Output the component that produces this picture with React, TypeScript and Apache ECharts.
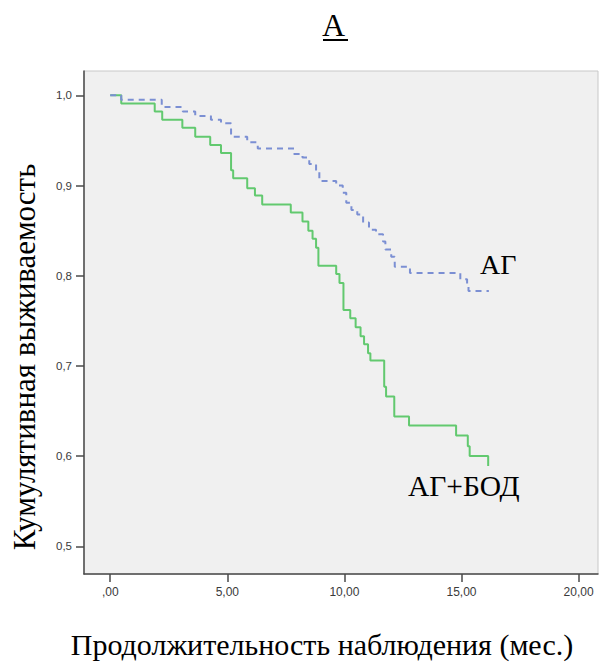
import React, { useEffect, useRef } from "react";
import * as echarts from "echarts";

// АГ+БОД (green, solid): event times and survival after each step
const greenT = [0, 0.47, 1.9, 2.22, 3.08, 3.63, 4.27, 4.73, 5.16, 5.25, 5.85, 6.18, 6.49, 7.71, 8.21, 8.46, 8.64, 8.79, 8.89, 9.65, 9.79, 9.96, 10.25, 10.48, 10.69, 10.84, 11.01, 11.11, 11.7, 11.78, 12.13, 12.76, 14.77, 15.27, 15.35, 16.14];
const greenV = [1.0, 0.991, 0.982, 0.973, 0.964, 0.954, 0.945, 0.936, 0.917, 0.908, 0.897, 0.889, 0.879, 0.87, 0.86, 0.85, 0.841, 0.831, 0.811, 0.802, 0.792, 0.762, 0.753, 0.743, 0.733, 0.724, 0.714, 0.706, 0.677, 0.666, 0.644, 0.634, 0.623, 0.611, 0.6, 0.589];

// АГ (blue, dashed)
const blueT = [0, 0.47, 2.2, 3.1, 3.63, 4.3, 4.73, 5.16, 5.85, 6.3, 7.85, 8.21, 8.5, 8.79, 8.93, 9.65, 9.93, 10.08, 10.3, 10.55, 10.8, 11.05, 11.35, 11.65, 11.75, 12.0, 12.15, 12.8, 14.95, 15.24, 15.3, 16.17];
const blueV = [1.0, 0.995, 0.987, 0.982, 0.977, 0.973, 0.969, 0.954, 0.948, 0.941, 0.935, 0.931, 0.924, 0.916, 0.905, 0.9, 0.892, 0.881, 0.873, 0.868, 0.859, 0.851, 0.846, 0.838, 0.829, 0.821, 0.81, 0.803, 0.796, 0.79, 0.783, 0.783];

const xTicks = [0, 5, 10, 15, 20];
const yTicks = [0.5, 0.6, 0.7, 0.8, 0.9, 1.0];

const titleText = "А";
const yTitle = "Кумулятивная выживаемость";
const xTitle = "Продолжительность наблюдения (мес.)";
const blueLabel = "АГ";
const greenLabel = "АГ+БОД";

export default function App() {
  const ref = useRef<HTMLDivElement>(null);
  useEffect(() => {
    document.body.style.margin = "0";
    if (!ref.current) return;
    const chart = echarts.init(ref.current, null, { renderer: "svg" });
    const serif = "'Liberation Serif', 'Times New Roman', serif";
    const sans = "'Liberation Sans', Arial, sans-serif";
    chart.setOption({
      animation: false,
      backgroundColor: "#ffffff",
      grid: {
        left: 84,
        top: 71,
        right: 2,
        bottom: 88,
        show: true,
        backgroundColor: "#f0f0f0",
        borderColor: "#c8c8c8",
        borderWidth: 1,
      },
      xAxis: {
        type: "value",
        min: -1.12,
        max: 20.83,
        splitLine: { show: false },
        axisLine: { show: true, onZero: false, lineStyle: { color: "#4a4a4a", width: 1.5 } },
        axisTick: { show: true, length: 8, customValues: xTicks, lineStyle: { color: "#4a4a4a", width: 1.5 } },
        axisLabel: {
          customValues: xTicks,
          margin: 12,
          color: "#3a3a3a",
          fontFamily: sans,
          fontSize: 12,
          formatter: (v: number) => (v === 0 ? ",00" : v.toFixed(2).replace(".", ",")),
        },
      },
      yAxis: {
        type: "value",
        min: 0.4693,
        max: 1.027,
        splitLine: { show: false },
        axisLine: { show: true, onZero: false, lineStyle: { color: "#4a4a4a", width: 1.5 } },
        axisTick: { show: true, length: 8, customValues: yTicks, lineStyle: { color: "#4a4a4a", width: 1.5 } },
        axisLabel: {
          customValues: yTicks,
          margin: 12,
          color: "#3a3a3a",
          fontFamily: sans,
          fontSize: 11.5,
          formatter: (v: number) => v.toFixed(1).replace(".", ","),
        },
      },
      series: [
        {
          name: greenLabel,
          type: "line",
          step: "end",
          symbol: "none",
          data: greenT.map((t, i) => [t, greenV[i]]),
          lineStyle: { color: "#62c96f", width: 2 },
          z: 3,
        },
        {
          name: blueLabel,
          type: "line",
          step: "end",
          symbol: "none",
          data: blueT.map((t, i) => [t, blueV[i]]),
          lineStyle: { color: "#7b8fd3", width: 2, type: [6, 5] },
          z: 4,
        },
      ],
      graphic: [
        {
          type: "text",
          left: 322,
          top: 9,
          style: { text: titleText, font: `32px ${serif}`, fill: "#000" },
        },
        {
          type: "line",
          shape: { x1: 323, y1: 40, x2: 348, y2: 40 },
          style: { stroke: "#000", lineWidth: 2 },
        },
        {
          type: "text",
          x: 24,
          y: 357,
          rotation: Math.PI / 2,
          style: {
            text: yTitle,
            font: `31px ${serif}`,
            fill: "#000",
            align: "center",
            verticalAlign: "middle",
          },
        },
        {
          type: "text",
          x: 322,
          y: 644,
          style: {
            text: xTitle,
            font: `30px ${serif}`,
            fill: "#000",
            align: "center",
            verticalAlign: "middle",
          },
        },
        {
          type: "text",
          x: 480,
          y: 264,
          style: { text: blueLabel, font: `28px ${serif}`, fill: "#000", verticalAlign: "middle" },
        },
        {
          type: "text",
          x: 408,
          y: 486,
          style: { text: greenLabel, font: `29.5px ${serif}`, fill: "#000", verticalAlign: "middle" },
        },
      ],
    });
    return () => chart.dispose();
  }, []);
  return <div ref={ref} style={{ width: 600, height: 662 }} />;
}
